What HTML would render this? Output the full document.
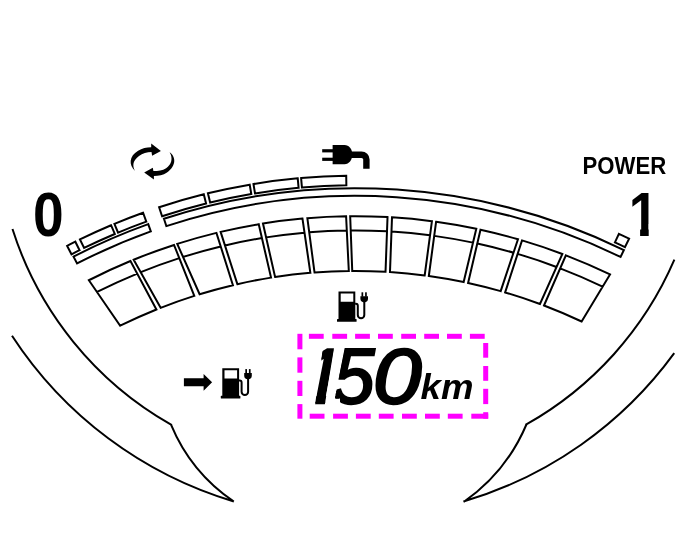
<!DOCTYPE html>
<html lang="en">
<head>
<meta charset="utf-8">
<title>Gauge</title>
<style>
html,body{margin:0;padding:0;background:#fff;}
body{width:686px;height:556px;overflow:hidden;}
svg{display:block;}
</style>
</head>
<body>
<svg width="686" height="556" viewBox="0 0 686 556">
<rect width="686" height="556" fill="#fff"/>
<path fill="none" stroke="#000" stroke-width="2" stroke-linecap="butt" stroke-linejoin="miter" d="M12.48 229.07 A345.2 345.2 0 0 0 171.04 424.53 L171.01 424.59 A172.9 172.9 0 0 0 233.85 501.53 M12 335.76 A402.6 402.6 0 0 0 233.83 501.51 M674.38 259.71 A346.2 346.2 0 0 1 526.35 424.41 L526.41 424.51 A179.8 179.8 0 0 1 463.65 501.98 M674.23 353.13 A400.7 400.7 0 0 1 463.47 501.45"/>
<path fill="none" stroke="#000" stroke-width="2" stroke-linejoin="miter" d="M88.85 280.24 A586.3 586.3 0 0 1 130.46 261.03 L156.42 309.5 A531.6 531.6 0 0 0 120.18 325.72 Z M97.11 291.98 A572.1 572.1 0 0 1 137.29 273.57 M133.68 259.7 A586.3 586.3 0 0 1 174.03 244.93 L194.29 295.87 A531.6 531.6 0 0 0 160.64 307.82 Z M140.8 272.13 A572.1 572.1 0 0 1 179.35 258.13 M177.24 243.89 A586.3 586.3 0 0 1 216.44 232.88 L232.92 285.18 A531.6 531.6 0 0 0 199.61 294.21 Z M183.16 256.91 A572.1 572.1 0 0 1 220.79 246.44 M220.62 231.88 A586.3 586.3 0 0 1 258.73 224.21 L271.04 277.62 A531.6 531.6 0 0 0 237.34 284.15 Z M225.04 245.43 A572.1 572.1 0 0 1 261.99 238.06 M262.98 223.51 A586.3 586.3 0 0 1 302.47 218.59 L310.35 272.8 A531.6 531.6 0 0 0 275.07 276.99 Z M266.19 237.38 A572.1 572.1 0 0 1 304.57 232.65 M307.36 218.16 A586.3 586.3 0 0 1 346.09 216.27 L348.81 270.94 A531.6 531.6 0 0 0 314.52 272.47 Z M309.27 232.25 A572.1 572.1 0 0 1 346.83 230.46 M350.18 216.22 A586.3 586.3 0 0 1 387.52 217.09 L385.53 271.76 A531.6 531.6 0 0 0 352.24 270.91 Z M350.75 230.42 A572.1 572.1 0 0 1 387.02 231.28 M392.01 217.35 A586.3 586.3 0 0 1 431.93 221.23 L424.69 275.45 A531.6 531.6 0 0 0 389.98 272.03 Z M391.51 231.55 A572.1 572.1 0 0 1 430.05 235.3 M436.09 221.79 A586.3 586.3 0 0 1 476.3 228.82 L463.65 282.06 A531.6 531.6 0 0 0 428.82 276.01 Z M434.21 235.87 A572.1 572.1 0 0 1 472.99 242.64 M480.5 229.72 A586.3 586.3 0 0 1 517.99 239.22 L500.67 291.16 A531.6 531.6 0 0 0 468.09 283 Z M477.26 243.55 A572.1 572.1 0 0 1 513.45 252.69 M522.01 240.4 A586.3 586.3 0 0 1 562.35 253.98 L539.99 304.01 A531.6 531.6 0 0 0 505.13 292.45 Z M517.6 253.91 A572.1 572.1 0 0 1 556.49 266.94 M565.89 255.33 A586.3 586.3 0 0 1 610.02 274.42 L581.64 321.49 A531.6 531.6 0 0 0 543.99 305.51 Z M560.16 268.34 A572.1 572.1 0 0 1 602.56 286.59 M73.55 256.62 A614.3 614.3 0 0 1 148.22 224.15 L150.82 231.4 A606.6 606.6 0 0 0 77.08 263.46 Z M163.94 218.76 A614.3 614.3 0 0 1 623.92 250.04 L620.55 256.97 A606.6 606.6 0 0 0 166.34 226.08 Z M67.14 245.87 A626.8 626.8 0 0 1 75.33 241.7 L79.57 250.2 A617.3 617.3 0 0 0 71.51 254.3 Z M79.94 239.42 A626.8 626.8 0 0 1 111.09 225.23 L114.8 233.98 A617.3 617.3 0 0 0 84.11 247.96 Z M114.42 223.83 A626.8 626.8 0 0 1 143.08 212.72 L146.3 221.66 A617.3 617.3 0 0 0 118.07 232.6 Z M159.11 207.19 A626.8 626.8 0 0 1 203.77 194.29 L206.07 203.51 A617.3 617.3 0 0 0 162.09 216.22 Z M207.91 193.27 A626.8 626.8 0 0 1 249.69 184.66 L251.29 194.03 A617.3 617.3 0 0 0 210.15 202.51 Z M253.47 184.03 A626.8 626.8 0 0 1 297.73 178.35 L298.6 187.81 A617.3 617.3 0 0 0 255.01 193.4 Z M301.11 178.05 A626.8 626.8 0 0 1 346.22 175.77 L346.36 185.26 A617.3 617.3 0 0 0 301.93 187.51 Z M618.91 233.83 A626.8 626.8 0 0 1 629.09 238.66 L624.94 247.2 A617.3 617.3 0 0 0 614.91 242.45 Z"/>
<path fill="#000" d="M135.1 170.9 C128.5 165 129 156 138.1 150.7 C142 148.2 146.5 147.3 151.2 147.2 L151.2 143.6 L160.9 150.9 L152.1 155.8 L151.5 152.1 C147 152.4 142.5 153.4 139 156 C133 160.4 132 165.5 135.1 170.9Z M169.6 152.3 C175.8 156.5 176.8 165.5 167 172.6 C163.2 175.2 158.5 176.1 153.9 176.1 L153.9 179.6 L144.2 172.6 L152.8 167.8 L153.4 171 C158 170.9 162.6 170.5 166.1 168.2 C171.5 164.6 173.3 158.5 169.6 152.3Z"/>
<g fill="#000"><rect x="322.2" y="149.2" width="11" height="3.2"/><rect x="322.2" y="157.7" width="11" height="3.2"/><path d="M332.6 145H344.5C349 145 352.3 149 352.3 154.6C352.3 160.2 349 164.2 344.5 164.2H332.6Z"/></g>
<path fill="none" stroke="#000" stroke-width="6.4" d="M350 154.7H361.5A4.9 4.9 0 0 1 366.4 159.6V168.8"/>
<g transform="translate(338.5 291.4)">
<path fill="#000" fill-rule="evenodd" d="M0 0H16.8V28H0Z M2.2 2H14.8V10.4H2.2Z"/>
<rect x="-1.5" y="27.6" width="19.6" height="2.8" rx=".6" fill="#000"/>
<path fill="none" stroke="#000" stroke-width="2" d="M16.6 12.4H17.4Q19.3 12.4 19.3 14.4V23.6A3.25 3.25 0 0 0 25.8 23.6V9.5"/>
<path fill="#000" d="M21.9 4.8H29.5V7.2A3.8 3.8 0 0 1 21.9 7.2Z"/>
<rect x="23" y="0.9" width="1.7" height="4.4" fill="#000"/>
<rect x="26.6" y="0.9" width="1.7" height="4.4" fill="#000"/>
</g>
<g transform="translate(222.3 368.2)">
<path fill="#000" fill-rule="evenodd" d="M0 0H16.8V28H0Z M2.2 2H14.8V10.4H2.2Z"/>
<rect x="-1.5" y="27.6" width="19.6" height="2.8" rx=".6" fill="#000"/>
<path fill="none" stroke="#000" stroke-width="2" d="M16.6 12.4H17.4Q19.3 12.4 19.3 14.4V23.6A3.25 3.25 0 0 0 25.8 23.6V9.5"/>
<path fill="#000" d="M21.9 4.8H29.5V7.2A3.8 3.8 0 0 1 21.9 7.2Z"/>
<rect x="23" y="0.9" width="1.7" height="4.4" fill="#000"/>
<rect x="26.6" y="0.9" width="1.7" height="4.4" fill="#000"/>
</g>
<path fill="#000" d="M183.9 378.3H203.6V374L212.1 382.3L203.6 390.8V386.2H183.9Z"/>
<g fill="#ff00ff"><rect x="308.9" y="333.8" width="14.8" height="5"/><rect x="309.7" y="413.7" width="14.8" height="5"/><rect x="332.3" y="333.8" width="14.8" height="5"/><rect x="333.1" y="413.7" width="14.8" height="5"/><rect x="355.1" y="333.8" width="14.8" height="5"/><rect x="355.9" y="413.7" width="14.8" height="5"/><rect x="378" y="333.8" width="14.8" height="5"/><rect x="378.8" y="413.7" width="14.8" height="5"/><rect x="401.2" y="333.8" width="14.8" height="5"/><rect x="402" y="413.7" width="14.8" height="5"/><rect x="424.2" y="333.8" width="14.8" height="5"/><rect x="425" y="413.7" width="14.8" height="5"/><rect x="447" y="333.8" width="14.8" height="5"/><rect x="447.8" y="413.7" width="14.8" height="5"/><rect x="469.9" y="333.8" width="14.8" height="5"/><rect x="471.3" y="413.7" width="16.9" height="5"/><rect x="483.2" y="412.2" width="5" height="6.5"/><rect x="297.4" y="333.8" width="5" height="15.5"/><rect x="297.4" y="357.4" width="5" height="15.3"/><rect x="297.4" y="380.8" width="5" height="15.2"/><rect x="297.4" y="404.1" width="5" height="14.6"/><rect x="483.2" y="343" width="5" height="14.7"/><rect x="483.2" y="366" width="5" height="14.8"/><rect x="483.2" y="388.8" width="5" height="15.3"/></g>
<defs><clipPath id="c1"><path d="M620 185H655V224H648.7V240H640.1V224H620Z"/></clipPath></defs>
<g font-family="'Liberation Sans', Arial, Helvetica, sans-serif" font-weight="bold" fill="#000" style="filter:grayscale(1)">
<text x="0" y="0" font-size="63.6" transform="translate(32.9 236) scale(.868 1)">0</text>
<g clip-path="url(#c1)"><text x="0" y="0" font-size="62.6" transform="translate(628.7 235.5) scale(.85 1)">1</text></g>
<text x="0" y="0" font-size="23.2" transform="translate(582.6 173.8) scale(.955 1)">POWER</text>
<defs><clipPath id="c2"><path d="M314.9 406H324.6L334.3 346H323.2Z M340 406V398.5H334.9L345 346H430V406Z"/></clipPath></defs>
<g clip-path="url(#c2)"><text y="402.9" font-size="78.6" font-style="italic" font-weight="normal" stroke="#000" stroke-width="2.4" stroke-linejoin="miter"><tspan x="300.4">1</tspan><tspan x="332.5" textLength="42" lengthAdjust="spacingAndGlyphs">5</tspan><tspan x="373" textLength="48.6" lengthAdjust="spacingAndGlyphs">0</tspan></text></g>
<text x="0" y="0" font-size="35.5" font-style="italic" transform="translate(420.6 398.7) scale(1.03 1)">km</text>
</g>
</svg>
</body>
</html>
